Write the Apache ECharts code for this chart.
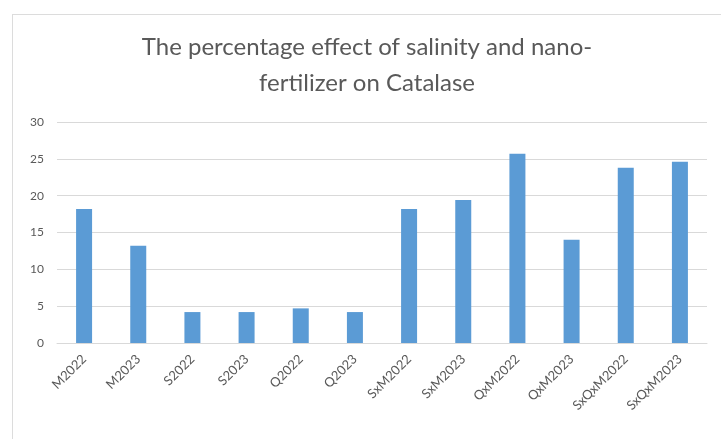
<!DOCTYPE html>
<html>
<head>
<meta charset="utf-8">
<script src="https://cdn.jsdelivr.net/npm/echarts@6/dist/echarts.min.js"></script>
<style>
  html, body { margin: 0; padding: 0; background: #ffffff; }
  #frame { position: absolute; left: 12px; top: 14px; width: 720px; height: 440px; border-left: 1px solid #dcdcdc; border-top: 1px solid #dcdcdc; box-sizing: border-box; }
  #chart { position: absolute; left: 0; top: 0; width: 721px; height: 439px; }
</style>
</head>
<body>
<div id="frame"></div>
<div id="chart"></div>
<script>
// Treatment groups along the x axis
const categories = ['M2022', 'M2023', 'S2022', 'S2023', 'Q2022', 'Q2023',
  'SxM2022', 'SxM2023', 'QxM2022', 'QxM2023', 'SxQxM2022', 'SxQxM2023'];
// Percentage effect on catalase for each group
const catalaseEffect = [18.2, 13.2, 4.2, 4.2, 4.7, 4.2, 18.2, 19.4, 25.7, 14.0, 23.8, 24.6];
// Value axis ticks
const yTicks = { min: 0, max: 30, interval: 5 };

const chart = echarts.init(document.getElementById('chart'), null, { renderer: 'canvas' });
chart.setOption({
  backgroundColor: 'transparent',
  animation: false,
  title: {
    text: 'The percentage effect of salinity and nano-\nfertilizer on Catalase',
    left: 362,
    top: 24,
    textAlign: 'center',
    textStyle: {
      fontFamily: 'Lato',
      fontSize: 24,
      fontWeight: 'normal',
      color: '#595959',
      lineHeight: 36
    }
  },
  grid: { left: 57, right: 14, top: 122, bottom: 96, containLabel: false },
  xAxis: {
    type: 'category',
    data: categories,
    axisLine: { lineStyle: { color: '#d9d9d9' } },
    axisTick: { show: false },
    axisLabel: {
      rotate: 45,
      margin: 14,
      fontFamily: 'Lato',
      fontSize: 13,
      color: '#595959',
      interval: 0
    }
  },
  yAxis: {
    type: 'value',
    min: yTicks.min,
    max: yTicks.max,
    interval: yTicks.interval,
    axisLine: { show: false },
    axisTick: { show: false },
    splitLine: { lineStyle: { color: '#d9d9d9' } },
    axisLabel: {
      margin: 13,
      fontFamily: 'Lato',
      fontSize: 12,
      color: '#595959'
    }
  },
  series: [{
    type: 'bar',
    data: catalaseEffect,
    barWidth: 16,
    itemStyle: { color: '#5B9BD5' }
  }]
});
</script>
</body>
</html>
